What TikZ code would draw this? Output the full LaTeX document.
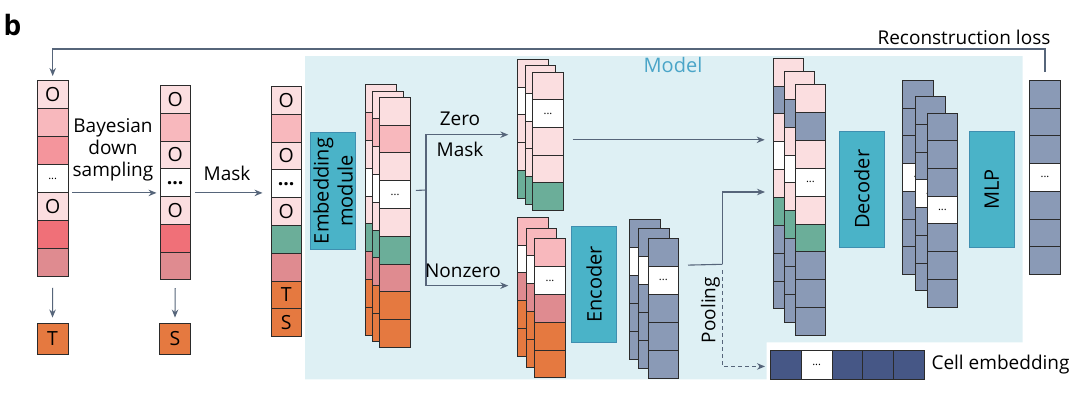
\documentclass[tikz,border=0pt]{standalone}
\usepackage{fontspec}
\setmainfont{Open Sans}
\usetikzlibrary{arrows.meta,positioning,calc}
\definecolor{ink}{HTML}{2B2B2B}
\definecolor{lp}{HTML}{FBDEE0}
\definecolor{pk}{HTML}{F8B8BD}
\definecolor{mp}{HTML}{F4959C}
\definecolor{rd}{HTML}{F07078}
\definecolor{mv}{HTML}{DF8B90}
\definecolor{gn}{HTML}{6BAE99}
\definecolor{og}{HTML}{E57940}
\definecolor{bg}{HTML}{8A9AB6}
\definecolor{nv}{HTML}{465786}
\definecolor{wh}{HTML}{FFFFFF}
\definecolor{tealbox}{HTML}{4AB3C8}
\definecolor{tealedge}{HTML}{3F8FB0}
\definecolor{modelbg}{HTML}{DEF0F4}
\definecolor{arrowc}{HTML}{56657A}
\definecolor{modeltext}{HTML}{4AA5C8}

\tikzset{
  cell/.style={draw=ink, line width=0.9pt, minimum width=30.5pt, inner sep=0pt,
    font=\fontsize{19.5}{19.5}\selectfont},
  module/.style={fill=tealbox, draw=tealedge, line width=0.8pt, rotate=90,
    minimum width=116.6pt, minimum height=45pt, align=center, inner sep=0pt,
    font=\fontsize{20}{24}\selectfont},
  conn/.style={draw=arrowc, line width=1.1pt},
  arr/.style={conn, -{Stealth[length=8pt,width=6.5pt]}},
  lbl/.style={font=\fontsize{19}{22}\selectfont, text=black, align=center}
}
\newcommand{\sdots}{{\fontsize{11}{11}\selectfont...}}
\newcommand{\bdots}{{\bfseries...}}
% one column of cells: name, left x, top y, cell height, colour/label list
\newcommand{\vcol}[5]{%
  \foreach \cc/\lb [count=\i] in {#5}
    \node[cell, fill=\cc, minimum height=#4pt, anchor=north west]
      (#1-\i) at (#2,{#3+(\i-1)*#4}) {\lb};
}
% three columns stacked: name, x, y, dx, dy, cell height, list
\newcommand{\vstack}[7]{%
  \foreach \k in {0,1,2}
    \vcol{#1\k}{#2+\k*#4}{#3+\k*#5}{#6}{#7};
}

\begin{document}
\begin{tikzpicture}[x=1pt,y=-1pt]
\useasboundingbox (0,0) rectangle (1080,400);

% model background
\fill[modelbg] (305,56) -- (1022.7,56) -- (1022.7,342.3) -- (766.7,342.3)
  -- (766.7,379.3) -- (305,379.3) -- cycle;
\node[text=modeltext, font=\fontsize{20}{20}\selectfont] (model) at (673,65) {Model};

\node[font=\fontsize{28}{28}\selectfont\bfseries] (panel) at (12.5,25) {b};

% input, downsampled and masked profiles
\vcol{in}{37}{80}{28}{lp/O, pk/{}, mp/{}, wh/\sdots, lp/O, rd/{}, mv/{}}
\vcol{dn}{159.5}{85.3}{27.7}{lp/O, pk/{}, lp/O, wh/\bdots, lp/O, rd/{}, mv/{}}
\vcol{ms}{270.5}{86}{27.8}{lp/O, pk/{}, lp/O, wh/\bdots, lp/O, gn/{}, mv/{}, og/T, og/S}

\node[cell, fill=og, minimum height=31pt, minimum width=31pt] (tbox) at (52.5,338.5) {T};
\node[cell, fill=og, minimum height=31pt, minimum width=31pt] (sbox) at (175,338.5) {S};

\node[lbl] (bayes) at (113,150) {Bayesian\\down\\sampling};
\node[lbl] (masklbl) at (227,173) {Mask};

\draw[arr] ([xshift=4]in-4.south east) -- ([xshift=-3]in-4.south east -| dn-4.west);
\draw[arr] ([xshift=4]dn-4.east |- in-4.south) -- ([xshift=-8]ms-4.west |- in-4.south);
\draw[arr] ($(in-7.south)+(0,11)$) -- ($(tbox.north)+(0,-5)$);
\draw[arr] ($(dn-7.south)+(0,8)$) -- ($(sbox.north)+(0,-5)$);

% modules
\node[module] (embmod) at (333,191) {Embedding\\module};
\node[module] (encoder) at (594.2,284.3) {Encoder};
\node[module] (decoder) at (861.8,189.3) {Decoder};
\node[module] (mlp) at (991.8,189.3) {MLP};

% stacks
\vstack{emb}{365}{84.3}{7.2}{6.2}{27.8}{lp/{}, pk/{}, lp/{}, wh/\sdots, lp/{}, gn/{}, mv/{}, og/{}, og/{}}
\vstack{zm}{517.3}{59}{7.5}{6.3}{27.7}{lp/{}, wh/\sdots, lp/{}, lp/{}, gn/{}}
\vstack{nz}{517.3}{216.7}{8.5}{10.8}{27.8}{pk/{}, wh/\sdots, mv/{}, og/{}, og/{}}
\vstack{en}{629}{219}{9.3}{9.3}{28}{bg/{}, wh/\sdots, bg/{}, bg/{}, bg/{}}
\vstack{dc}{772.7}{57.7}{11}{13.3}{27.85}{lp/{}, bg/{}, lp/{}, wh/\sdots, lp/{}, gn/{}, bg/{}, bg/{}, bg/{}}
\vstack{dco}{902.3}{80}{12.2}{16.3}{27.7}{bg/{}, bg/{}, bg/{}, wh/\sdots, bg/{}, bg/{}, bg/{}}
\vcol{out}{1029.3}{80}{27.7}{bg/{}, bg/{}, bg/{}, wh/\sdots, bg/{}, bg/{}, bg/{}}

% cell embedding
\foreach \cc/\lb [count=\i] in {nv/{}, wh/\sdots, nv/{}, nv/{}, nv/{}}
  \node[cell, fill=\cc, minimum width=30.8pt, minimum height=29pt, anchor=north west]
    (ce-\i) at ({770+(\i-1)*30.8},350) {\lb};
\node[lbl, anchor=west] (celllbl) at (928,365) {Cell embedding};

% split into zero / nonzero
\coordinate (split) at (426,190);
\draw[conn] ($(emb2-4.east)+(5,-4)$) -- (split);
\draw[arr] (split) |- ($(zm0-3.west)+(-9,6)$);
\draw[arr] (split) |- ($(nz0-3.west)+(-9,-1)$);
\node[lbl] (zerolbl) at (460,119) {Zero};
\node[lbl] (zmasklbl) at (460,149) {Mask};
\node[lbl] (nonzlbl) at (463,271) {Nonzero};

% into the decoder
\draw[arr, shorten >=8pt] ($(zm2-3.east)+(9,-1.5)$) coordinate (zt) -- (zt -| dc0-1.west);
\coordinate (pool) at (722.3,264.3);
\coordinate (mixin) at (765,192);
\draw[conn] ($(en2-1.south east)+(9,-1.4)$) -- (pool);
\draw[arr] (pool) |- (mixin);
\draw[conn, dash pattern=on 4pt off 3pt, -{Stealth[length=8pt,width=6.5pt]}]
  ($(pool)+(0,6)$) |- ($(ce-1.west)+(-5,1.5)$);
\node[lbl, rotate=90] (poollbl) at (710.5,310) {Pooling};

% reconstruction loss
\draw[arr] ($(out-1.north)+(0,-8)$) -- ++(0,-23) -| ($(in-1.north)+(0,-4)$);
\node[lbl] (recon) at (964,37) {Reconstruction loss};
\end{tikzpicture}
\end{document}
